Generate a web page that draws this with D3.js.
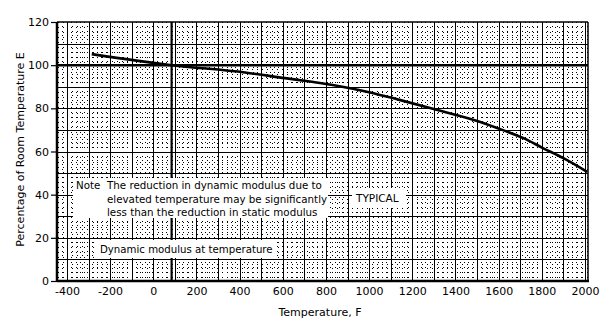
<!DOCTYPE html>
<html><head><meta charset="utf-8">
<script src="https://cdn.jsdelivr.net/npm/d3@7/dist/d3.min.js"></script>
<style>
html,body{margin:0;padding:0;background:#fff;}
svg{display:block;font-family:"DejaVu Sans",sans-serif;}
</style></head>
<body>
<script>
// ---- data ----
const xTickValues = [-400,-200,0,200,400,600,800,1000,1200,1400,1600,1800,2000];
const xTickLabels = ["-400","-200","0","200","400","600","800","1000","1200","1400","1600","1800","2000"];
const yTickValues = [0,20,40,60,80,100,120];
const temperatureF = [-285, 85, 425, 610, 725, 850, 1000, 1145, 1295, 1515, 1620, 1715, 1805, 1900, 2010];
const percentE     = [105.1, 100, 96.6, 94.0, 92.4, 90.5, 87.5, 83.8, 79.8, 73.7, 69.9, 66.2, 61.6, 56.9, 50.6];
const roomTempF = 85;
const noteLines = ["The reduction in dynamic modulus due to",
                   "elevated temperature may be significantly",
                   "less than the reduction in static modulus"];
const noteLead = "Note";
const typicalLabel = "TYPICAL";
const dynamicLabel = "Dynamic modulus at temperature";
const xTitle = "Temperature, F";
const yTitle = "Percentage of Room Temperature E";

// ---- layout ----
const W = 608, H = 330;
const L = 57, R = 588, T = 22, B = 281;
const svg = d3.select("body").append("svg").attr("width", W).attr("height", H);
const x = d3.scaleLinear().domain([-446, 2014]).range([L, R]);
const y = d3.scaleLinear().domain([0, 120]).range([B, T]);
const px = v => Math.round(v) + 0.5;

const grid = svg.append("g").attr("shape-rendering", "crispEdges");
// minor dotted verticals every 20F
const minorX = d3.range(-440, 2014, 20).filter(d => d % 100 !== 0);
grid.selectAll(".mx").data(minorX).join("line")
  .attr("x1", d => px(x(d))).attr("x2", d => px(x(d)))
  .attr("y1", T).attr("y2", B)
  .attr("stroke", "#000").attr("stroke-width", 1).attr("stroke-dasharray", "1,4");
// minor dotted horizontals every 2%
const minorY = d3.range(2, 120, 2).filter(d => d % 10 !== 0);
grid.selectAll(".my").data(minorY).join("line")
  .attr("x1", L).attr("x2", R)
  .attr("y1", d => px(y(d))).attr("y2", d => px(y(d)))
  .attr("stroke", "#000").attr("stroke-width", 1).attr("stroke-dasharray", "1,4");
// major verticals every 100F
grid.selectAll(".Mx").data(d3.range(-400, 2001, 100)).join("line")
  .attr("x1", d => px(x(d))).attr("x2", d => px(x(d)))
  .attr("y1", T).attr("y2", B)
  .attr("stroke", "#000").attr("stroke-width", 1);
// major horizontals every 10%
grid.selectAll(".My").data(d3.range(10, 120, 10)).join("line")
  .attr("x1", L).attr("x2", R)
  .attr("y1", d => px(y(d))).attr("y2", d => px(y(d)))
  .attr("stroke", "#000").attr("stroke-width", 1);

// heavy reference lines
svg.append("line").attr("x1", L).attr("x2", R).attr("y1", y(100)).attr("y2", y(100))
  .attr("stroke", "#000").attr("stroke-width", 2.5);
svg.append("line").attr("x1", x(roomTempF)).attr("x2", x(roomTempF)).attr("y1", T).attr("y2", B)
  .attr("stroke", "#000").attr("stroke-width", 2.2);

// white label boxes
function whiteBox(x0, y0, x1, y1) {
  svg.append("rect").attr("x", x0).attr("y", y0).attr("width", x1 - x0).attr("height", y1 - y0)
    .attr("fill", "#fff");
}
whiteBox(73, 178, 328, 218);
whiteBox(352, 188, 406, 208);
whiteBox(96, 240, 276, 258);

// curve
const pts = temperatureF.map((t, i) => [t, percentE[i]]);
svg.append("path").datum(pts)
  .attr("d", d3.line().x(d => x(d[0])).y(d => y(d[1])).curve(d3.curveMonotoneX))
  .attr("fill", "none").attr("stroke", "#000").attr("stroke-width", 2.6);

// frame
svg.append("line").attr("x1", L).attr("x2", R).attr("y1", T).attr("y2", T).attr("stroke", "#000").attr("stroke-width", 1.5);
svg.append("line").attr("x1", R).attr("x2", R).attr("y1", T).attr("y2", B).attr("stroke", "#000").attr("stroke-width", 1.5);
svg.append("line").attr("x1", L).attr("x2", R + 1).attr("y1", B).attr("y2", B).attr("stroke", "#000").attr("stroke-width", 2.5);
svg.append("line").attr("x1", L).attr("x2", L).attr("y1", T).attr("y2", B + 1).attr("stroke", "#000").attr("stroke-width", 2.5);

// axes
const yAxis = d3.axisLeft(y).tickValues(yTickValues).tickSize(6).tickPadding(2);
const gy = svg.append("g").attr("transform", `translate(${L},0)`).call(yAxis);
gy.select(".domain").remove();
gy.selectAll("text").attr("font-size", 11).attr("font-family", "DejaVu Sans").attr("fill", "#000");
gy.selectAll("line").attr("stroke", "#000").attr("stroke-width", 1.2);

const xAxis = d3.axisBottom(x).tickValues(xTickValues).tickFormat((d, i) => xTickLabels[i]).tickSize(0).tickPadding(6);
const gx = svg.append("g").attr("transform", `translate(0,${B})`).call(xAxis);
gx.select(".domain").remove();
gx.selectAll("text").attr("font-size", 11).attr("font-family", "DejaVu Sans").attr("fill", "#000");

// titles
svg.append("text").attr("x", 320).attr("y", 316).attr("text-anchor", "middle")
  .attr("font-size", 11).text(xTitle);
svg.append("text").attr("transform", `translate(24,${(T + B) / 2 - 2}) rotate(-90)`)
  .attr("text-anchor", "middle").attr("font-size", 11).text(yTitle);

// annotations
svg.append("text").attr("x", 76).attr("y", 189).attr("font-size", 10.3).text(noteLead);
noteLines.forEach((s, i) => {
  svg.append("text").attr("x", 107).attr("y", 189 + i * 13.5)
    .attr("font-size", 10.3).text(s);
});
svg.append("text").attr("x", 356).attr("y", 202).attr("font-size", 10.5).text(typicalLabel);
svg.append("text").attr("x", 100).attr("y", 253).attr("font-size", 10.2).text(dynamicLabel);
</script>
</body></html>
